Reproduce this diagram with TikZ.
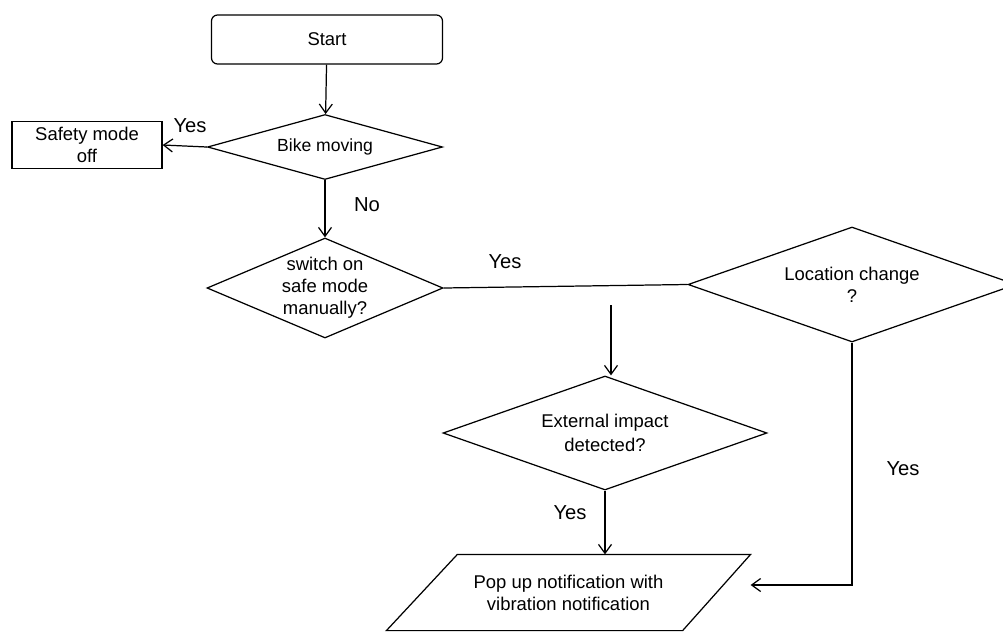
\documentclass[tikz,border=0pt]{standalone}
\usepackage{fontspec}
\setmainfont{Liberation Sans}
\usetikzlibrary{shapes.geometric}
\usetikzlibrary{arrows.meta}

\tikzset{
	box/.style = {draw, line width=0.7pt, align=center, inner sep=0pt, font=\fontsize{10.5}{12.5}\selectfont},
	decision/.style = {box, diamond},
	lbl/.style = {font=\fontsize{11.5}{13}\selectfont},
}

\begin{document}
\begin{tikzpicture}[>={Straight Barb[length=1.8mm,width=2.6mm]}, line width=0.7pt]
		\useasboundingbox (0,0) rectangle (20.06,-12.64);
		% boxes
		\node[box, rounded corners=0.12cm, minimum width=4.62cm, minimum height=0.98cm] (start) at (6.54,-0.79) {Start};
		\node[decision, aspect=3.6, minimum width=4.7cm, minimum height=1.3cm, font=\fontsize{10}{12}\selectfont] (bike) at (6.5,-2.94) {Bike moving};
		\node[box, minimum width=3cm, minimum height=0.94cm] (safety) at (1.74,-2.9) {Safety mode\\off};
		\node[decision, aspect=2.36, minimum width=4.72cm, minimum height=2cm] (switch) at (6.5,-5.76) {switch on\\safe mode\\manually?};
		\node[decision, aspect=2.85, minimum width=6.56cm, minimum height=2.3cm] (loc) at (17.04,-5.69) {Location change\\?};
		\node[decision, aspect=2.84, minimum width=6.48cm, minimum height=2.28cm, font=\fontsize{10.5}{14}\selectfont] (ext) at (12.1,-8.66) {External impact\\detected?};
		\node[box, draw=none, minimum width=7.26cm, minimum height=1.5cm] (popup) at (11.37,-11.85) {Pop up notification with\\vibration notification};
		\draw (popup.south west) -- ([xshift=1.42cm]popup.north west) -- (popup.north east) -- ([xshift=-1.36cm]popup.south east) -- cycle;
		% connectors
		\draw[->] (start) -- (bike);
		\draw[->] (bike.west) -- (safety.east);
		\draw[->] (bike) -- (switch);
		\draw (switch.east) -- (loc.west);
		\coordinate (split) at (12.22,-6.1);
		\draw[->] (split) -- (split |- ext.north);
		\draw[->] (ext.south) -- (ext.south |- popup.north);
		\coordinate (notify) at (popup.north east |- 0,-11.7);
		\draw[->] (loc.south) |- (notify);
		% labels
		\node[lbl] (yesbike) at (3.8,-2.52) {Yes};
		\node[lbl] (nobike) at (7.34,-4.1) {No};
		\node[lbl] (yesswitch) at (10.1,-5.24) {Yes};
		\node[lbl] (yesext) at (11.4,-10.26) {Yes};
		\node[lbl] (yesloc) at (18.06,-9.38) {Yes};
	\end{tikzpicture}
\end{document}
